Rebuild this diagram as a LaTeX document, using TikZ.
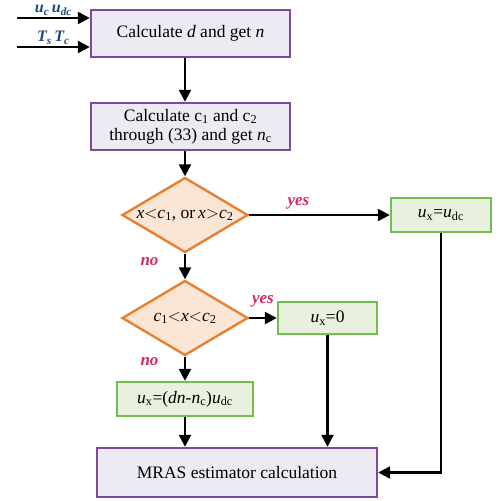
\documentclass[tikz,border=0pt]{standalone}
\usepackage{fontspec}
\setmainfont{Liberation Serif}
\usetikzlibrary{arrows.meta,shapes.geometric,positioning}
\definecolor{pborder}{HTML}{7E4A9E}
\definecolor{pfill}{HTML}{EEEAF3}
\definecolor{oborder}{HTML}{E9802F}
\definecolor{ofill}{HTML}{FBE6D6}
\definecolor{gborder}{HTML}{72BF4E}
\definecolor{gfill}{HTML}{EAF0DE}
\definecolor{lblred}{HTML}{D42A63}
\definecolor{lblblue}{HTML}{1F4A78}
\tikzset{
  txt/.style={font=\fontsize{17.5}{19}\selectfont},
  pbox/.style={draw=pborder,fill=pfill,line width=2.4pt,align=center,inner sep=0pt,txt},
  gbox/.style={draw=gborder,fill=gfill,line width=2.4pt,align=center,inner sep=0pt,txt},
  dia/.style={draw=oborder,fill=ofill,line width=2.4pt,diamond,aspect=1.68,inner sep=0pt,minimum width=126pt,minimum height=75pt,txt},
  arr/.style={line width=2.4pt,-{Triangle[length=12pt,width=12pt]}},
  lbl/.style={text=lblred,font=\fontsize{17}{18}\selectfont\bfseries\itshape},
  inlbl/.style={text=lblblue,font=\fontsize{16}{17}\selectfont\bfseries\itshape}
}
\begin{document}
\begin{tikzpicture}[x=1pt,y=-1pt]
\useasboundingbox (0,0) rectangle (499,501);
\node[pbox,minimum width=199pt,minimum height=47pt] (b1) at (190.5,33.5) {Calculate \textit{d} and get \textit{n}};
\node[pbox,minimum width=199pt,minimum height=47pt] (b2) at (190.5,126.5) {Calculate c\textsubscript{1} and c\textsubscript{2}\\through (33) and get \textit{n}\textsubscript{c}};
\node[dia] (d1) at (185,215) {\textit{x}$<$\textit{c}\textsubscript{1}, or\,\textit{x}$>$\textit{c}\textsubscript{2}};
\node[gbox,minimum width=100pt,minimum height=34pt] (g1) at (441,215) {\textit{u}\textsubscript{x}=\textit{u}\textsubscript{dc}};
\node[dia] (d2) at (185,318) {\textit{c}\textsubscript{1}$<$\textit{x}$<$\textit{c}\textsubscript{2}};
\node[gbox,minimum width=99pt,minimum height=32pt] (g2) at (327.5,318) {\textit{u}\textsubscript{x}=0};
\node[gbox,minimum width=136pt,minimum height=34pt] (g3) at (185,399) {\textit{u}\textsubscript{x}=(\textit{dn}-\textit{n}\textsubscript{c})\textit{u}\textsubscript{dc}};
\node[pbox,minimum width=280pt,minimum height=49pt] (b3) at (237,472.5) {MRAS estimator calculation};
\coordinate (in1) at (17,18);
\coordinate (in2) at (17,47);
\draw[arr] (in1) -- (in1 -| b1.west) node[inlbl,midway,above=-2pt] {\textit{u}\textsubscript{c}\,\textit{u}\textsubscript{dc}};
\draw[arr] (in2) -- (in2 -| b1.west) node[inlbl,midway,above=-2pt] {\textit{T}\textsubscript{s}\,\textit{T}\textsubscript{c}};
\draw[arr] (b1.south -| 185,0) -- (b2.north -| 185,0);
\draw[arr] (b2.south -| d1.north) -- (d1.north);
\draw[arr] (d1.east) -- (g1.west) node[lbl,pos=0.35,above=1pt] {yes};
\draw[arr] (d1.south) -- (d2.north) node[lbl,pos=0.3,left=22pt] {no};
\draw[arr] (d2.east) -- (g2.west) node[lbl,pos=0.5,above=6pt] {yes};
\draw[arr] (d2.south) -- (g3.north) node[lbl,pos=0.2,left=22pt] {no};
\draw[arr] (g3.south) -- (g3.south |- b3.north);
\draw[arr] (g2.south) -- (g2.south |- b3.north);
\draw[arr] (g1.south) |- (b3.east);
\end{tikzpicture}
\end{document}
